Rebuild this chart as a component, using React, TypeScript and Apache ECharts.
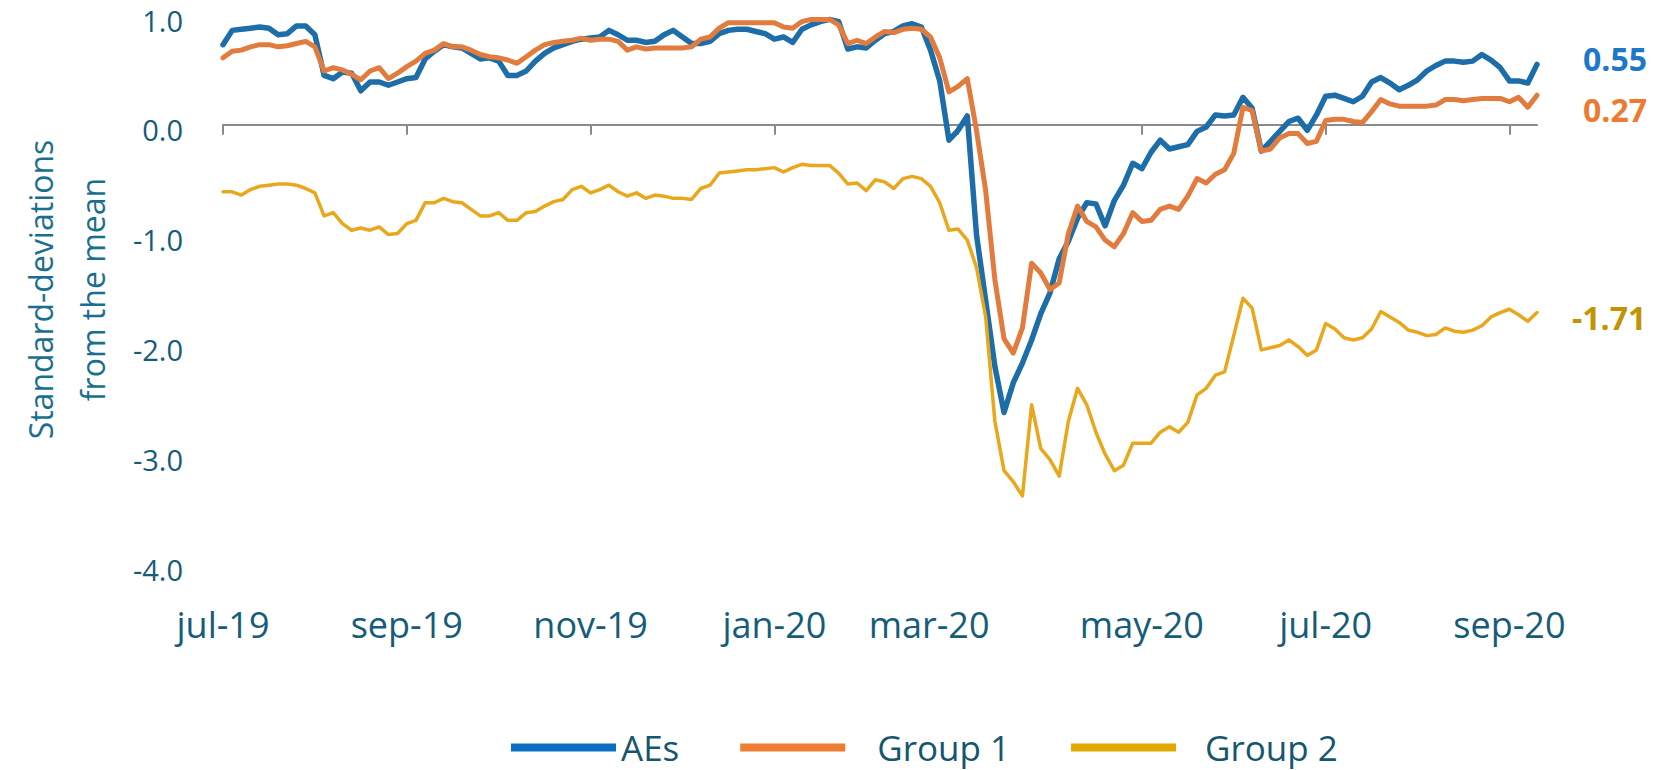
import React, { useEffect, useRef } from "react";
import * as echarts from "echarts";

// Sampling step of the series, in months counted from 1 Jul 2019
const STEP_MONTHS = 0.1;
const MONTH_TICKS = [0, 2, 4, 6, 8, 10, 12, 14];
const MONTH_LABELS = ["jul-19", "sep-19", "nov-19", "jan-20", "mar-20", "may-20", "jul-20", "sep-20"];
const Y_MIN = -4;
const Y_MAX = 1;
const Y_TITLE = "Standard-deviations\nfrom the mean";
const SERIES_NAMES = ["AEs", "Group 1", "Group 2"];

const AES = [
  0.73, 0.86, 0.87, 0.88, 0.89, 0.88, 0.82, 0.83, 0.90, 0.90,
  0.82, 0.45, 0.42, 0.48, 0.47, 0.31, 0.39, 0.39, 0.36, 0.39,
  0.42, 0.43, 0.60, 0.67, 0.73, 0.71, 0.70, 0.65, 0.60, 0.61,
  0.58, 0.45, 0.45, 0.49, 0.58, 0.65, 0.70, 0.73, 0.76, 0.78,
  0.79, 0.80, 0.86, 0.82, 0.77, 0.77, 0.75, 0.76, 0.82, 0.86,
  0.80, 0.74, 0.74, 0.76, 0.83, 0.86, 0.87, 0.87, 0.85, 0.83,
  0.78, 0.80, 0.75, 0.87, 0.91, 0.94, 0.96, 0.94, 0.69, 0.71,
  0.70, 0.77, 0.83, 0.85, 0.90, 0.92, 0.89, 0.68, 0.40, -0.14,
  -0.05, 0.08, -1.00, -1.60, -2.20, -2.62, -2.35, -2.17, -1.96, -1.72,
  -1.53, -1.22, -1.06, -0.85, -0.71, -0.72, -0.92, -0.69, -0.55, -0.35,
  -0.40, -0.25, -0.14, -0.22, -0.20, -0.18, -0.06, -0.02, 0.09, 0.08,
  0.09, 0.25, 0.15, -0.24, -0.15, -0.06, 0.03, 0.06, -0.05, 0.09,
  0.26, 0.27, 0.24, 0.21, 0.26, 0.39, 0.43, 0.38, 0.32, 0.36,
  0.41, 0.49, 0.54, 0.58, 0.58, 0.57, 0.58, 0.64, 0.59, 0.52,
  0.40, 0.40, 0.38, 0.55,
];

const GROUP1 = [
  0.61, 0.67, 0.68, 0.71, 0.73, 0.73, 0.71, 0.72, 0.74, 0.76,
  0.71, 0.49, 0.52, 0.50, 0.46, 0.41, 0.49, 0.52, 0.42, 0.47,
  0.53, 0.58, 0.65, 0.68, 0.74, 0.71, 0.71, 0.68, 0.64, 0.62,
  0.61, 0.59, 0.56, 0.62, 0.68, 0.73, 0.75, 0.76, 0.77, 0.79,
  0.77, 0.78, 0.78, 0.76, 0.68, 0.71, 0.69, 0.70, 0.70, 0.70,
  0.70, 0.71, 0.78, 0.80, 0.88, 0.93, 0.93, 0.93, 0.93, 0.93,
  0.93, 0.89, 0.88, 0.94, 0.96, 0.96, 0.96, 0.91, 0.74, 0.77,
  0.74, 0.80, 0.85, 0.84, 0.87, 0.88, 0.87, 0.80, 0.61, 0.30,
  0.35, 0.42, -0.05, -0.60, -1.41, -1.95, -2.08, -1.85, -1.26, -1.35,
  -1.50, -1.44, -0.99, -0.74, -0.88, -0.93, -1.05, -1.11, -0.99, -0.80,
  -0.88, -0.87, -0.77, -0.74, -0.77, -0.65, -0.49, -0.53, -0.45, -0.41,
  -0.26, 0.16, 0.13, -0.24, -0.22, -0.12, -0.08, -0.08, -0.17, -0.15,
  0.04, 0.05, 0.05, 0.03, 0.02, 0.12, 0.23, 0.19, 0.17, 0.17,
  0.17, 0.17, 0.18, 0.23, 0.23, 0.22, 0.23, 0.24, 0.24, 0.24,
  0.21, 0.25, 0.16, 0.27,
];

const GROUP2 = [
  -0.61, -0.61, -0.64, -0.59, -0.56, -0.55, -0.54, -0.54, -0.55, -0.58,
  -0.62, -0.83, -0.80, -0.90, -0.96, -0.94, -0.96, -0.93, -1.00, -0.99,
  -0.90, -0.87, -0.71, -0.71, -0.67, -0.70, -0.71, -0.77, -0.83, -0.83,
  -0.80, -0.87, -0.87, -0.80, -0.79, -0.74, -0.70, -0.68, -0.59, -0.56,
  -0.62, -0.59, -0.55, -0.61, -0.65, -0.62, -0.67, -0.64, -0.65, -0.67,
  -0.67, -0.68, -0.58, -0.55, -0.44, -0.43, -0.42, -0.41, -0.41, -0.40,
  -0.39, -0.43, -0.39, -0.36, -0.37, -0.37, -0.37, -0.44, -0.54, -0.53,
  -0.60, -0.50, -0.52, -0.58, -0.49, -0.47, -0.49, -0.56, -0.71, -0.96,
  -0.95, -1.05, -1.30, -1.75, -2.70, -3.15, -3.25, -3.38, -2.55, -2.95,
  -3.05, -3.20, -2.70, -2.40, -2.55, -2.80, -3.00, -3.15, -3.10, -2.90,
  -2.90, -2.90, -2.80, -2.75, -2.80, -2.71, -2.46, -2.40, -2.28, -2.25,
  -1.92, -1.58, -1.67, -2.05, -2.03, -2.01, -1.96, -2.02, -2.10, -2.05,
  -1.81, -1.86, -1.94, -1.96, -1.94, -1.86, -1.70, -1.75, -1.80, -1.87,
  -1.89, -1.92, -1.91, -1.85, -1.88, -1.89, -1.87, -1.83, -1.75, -1.71,
  -1.68, -1.73, -1.79, -1.71,
];

const LINE_COLORS = ["#1C6DA8", "#E27C3E", "#E9A71C"];
const LEGEND_COLORS = ["#0A6FC2", "#ED7D31", "#E2A800"];
const END_LABEL_COLORS = ["#1E78C8", "#EB7B33", "#C29400"];

const FONT = "'Open Sans', 'Noto Sans', sans-serif";
const AXIS_TEXT = "#165C7A";

function toPoints(values: number[]) {
  return values.map((v, i) => [Math.round(i * STEP_MONTHS * 100) / 100, v]);
}

export default function App() {
  const ref = useRef<HTMLDivElement>(null);

  useEffect(() => {
    if (!ref.current) return;
    const chart = echarts.init(ref.current, undefined, { renderer: "svg" });
    const xMax = Math.round((AES.length - 1) * STEP_MONTHS * 100) / 100;
    const seriesData = [AES, GROUP1, GROUP2];
    const endOffsets: [number, number][] = [[0, -6], [0, 14], [0, 5]];
    const endDistances = [46, 46, 35];
    const widths = [5.5, 5, 3.5];

    const option: any = {
      animation: false,
      backgroundColor: "#ffffff",
      grid: { left: 223, right: 123, top: 15, bottom: 206, containLabel: false, outerBoundsMode: "none" },
      xAxis: [
        {
          type: "value",
          min: 0,
          max: xMax,
          interval: 2,
          position: "bottom",
          axisLine: { show: false, onZero: false },
          axisTick: { show: false },
          splitLine: { show: false },
          axisLabel: {
            show: true,
            customValues: MONTH_TICKS,
            margin: 42,
            fontFamily: FONT,
            fontSize: 36,
            color: AXIS_TEXT,
            formatter: (v: number) => {
              const idx = MONTH_TICKS.indexOf(Math.round(v * 100) / 100);
              if (idx < 0) return "";
              if (idx === 4) return "{s|" + MONTH_LABELS[idx] + "}";
              return MONTH_LABELS[idx];
            },
            rich: {
              s: { fontFamily: FONT, fontSize: 36, color: AXIS_TEXT, padding: [0, 58, 0, 0] },
            },
          },
        },
        {
          type: "value",
          min: 0,
          max: xMax,
          interval: 2,
          position: "bottom",
          axisLine: { show: true, onZero: true, lineStyle: { color: "#8A8A8A", width: 2 } },
          axisTick: { show: true, customValues: MONTH_TICKS, length: 10, lineStyle: { color: "#8A8A8A", width: 2 } },
          axisLabel: { show: false },
          splitLine: { show: false },
        },
      ],
      yAxis: {
        type: "value",
        min: Y_MIN,
        max: Y_MAX,
        interval: 1,
        axisLine: { show: false },
        axisTick: { show: false },
        splitLine: { show: false },
        axisLabel: {
          margin: 40,
          fontFamily: FONT,
          fontSize: 29,
          color: AXIS_TEXT,
          formatter: (v: number) => "{a|" + v.toFixed(1) + "}",
          rich: {
            a: { fontFamily: FONT, fontSize: 29, color: AXIS_TEXT, padding: [10, 0, 0, 0] },
          },
        },
        name: Y_TITLE,
        nameLocation: "middle",
        nameRotate: 90,
        nameGap: 105,
        nameTextStyle: {
          fontFamily: FONT,
          fontSize: 32,
          lineHeight: 52,
          color: "#1A6F8E",
        },
      },
      legend: {
        left: 506,
        top: 725,
        icon: "rect",
        itemWidth: 105,
        itemHeight: 8,
        itemGap: 61,
        textStyle: { fontFamily: FONT, fontSize: 35, color: "#15566F" },
        data: [
          { name: SERIES_NAMES[0], itemStyle: { color: LEGEND_COLORS[0] }, textStyle: { padding: [0, 20, 0, 0] } },
          { name: SERIES_NAMES[1], itemStyle: { color: LEGEND_COLORS[1] }, textStyle: { padding: [0, 0, 0, 27] } },
          { name: SERIES_NAMES[2], itemStyle: { color: LEGEND_COLORS[2] }, textStyle: { padding: [0, 0, 0, 24] } },
        ],
      },
      series: seriesData.map((vals, k) => ({
        name: SERIES_NAMES[k],
        type: "line",
        xAxisIndex: 1,
        data: toPoints(vals),
        symbol: "none",
        showSymbol: false,
        lineStyle: { color: LINE_COLORS[k], width: widths[k], join: "round", cap: "round" },
        itemStyle: { color: LEGEND_COLORS[k] },
        emphasis: { disabled: true },
        endLabel: {
          show: true,
          distance: endDistances[k],
          offset: endOffsets[k],
          fontFamily: FONT,
          fontSize: 32,
          fontWeight: "bold",
          color: END_LABEL_COLORS[k],
          formatter: (p: any) => {
            const val = Array.isArray(p.value) ? p.value[1] : p.value;
            return Number(val).toFixed(2);
          },
        },
      })),
    };

    chart.setOption(option);
    return () => chart.dispose();
  }, []);

  return (
    <div
      ref={ref}
      style={{ position: "absolute", left: 0, top: 0, width: 1660, height: 770, background: "#fff" }}
    />
  );
}
